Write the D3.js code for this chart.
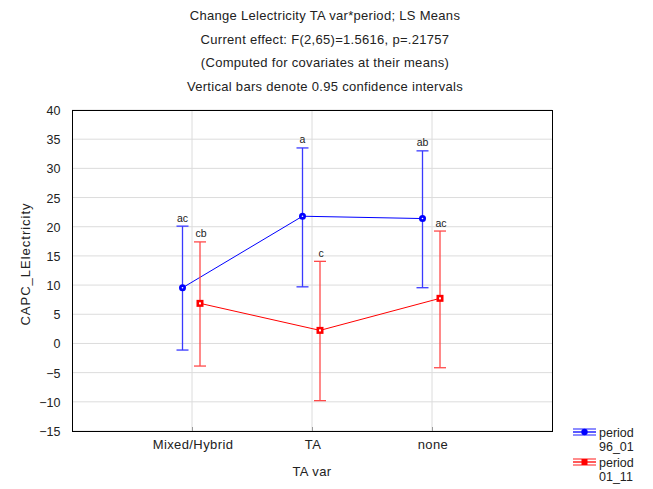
<!DOCTYPE html>
<html><head><meta charset="utf-8">
<script src="https://cdn.jsdelivr.net/npm/d3@7"></script>
<style>body{margin:0;background:#fff}svg text{font-family:"Liberation Sans",Arial,sans-serif;fill:#222}</style>
</head><body><svg id="c" width="653" height="489"></svg>
<script>
const categories = ["Mixed/Hybrid","TA","none"];
const seriesNames = ["period\n96_01","period\n01_11"];
const meansP1 = [9.54, 21.8, 21.4];
const lowerP1 = [-1.13, 9.7, 9.55];
const upperP1 = [20.1, 33.5, 33.0];
const labelsP1 = ["ac","a","ab"];
const meansP2 = [6.87, 2.24, 7.73];
const lowerP2 = [-3.87, -9.8, -4.16];
const upperP2 = [17.4, 14.07, 19.26];
const labelsP2 = ["cb","c","ac"];
const yTicks = [-15,-10,-5,0,5,10,15,20,25,30,35,40];
const titleLines = ["Change Lelectricity TA var*period; LS Means","Current effect: F(2,65)=1.5616, p=.21757","(Computed for covariates at their means)","Vertical bars denote 0.95 confidence intervals"];

const svg = d3.select("#c");
const L=72,R=552,T=110,B=431;
const x = d3.scalePoint().domain(["",...categories,"_"]).range([L,R]);
const y = d3.scaleLinear().domain([-15,40]).range([B,T]);

// grid
svg.append("g").selectAll("line").data(yTicks).join("line")
 .attr("x1",L).attr("x2",R).attr("y1",d=>y(d)).attr("y2",d=>y(d))
 .attr("stroke","#dcdcdc").attr("stroke-width",1);
svg.append("g").selectAll("line").data(categories).join("line")
 .attr("x1",d=>x(d)).attr("x2",d=>x(d)).attr("y1",T).attr("y2",B)
 .attr("stroke","#dcdcdc").attr("stroke-width",1);
svg.append("rect").attr("x",L+0.5).attr("y",T+0.5).attr("width",R-L).attr("height",B-T)
 .attr("fill","none").attr("stroke","#000");

// y axis
const ya = svg.append("g").attr("transform",`translate(${L+0.5},0.5)`)
 .call(d3.axisLeft(y).tickValues(yTicks).tickSize(0).tickPadding(12));
ya.select(".domain").remove();
ya.selectAll("text").attr("font-size",12.5).attr("font-family","Liberation Sans, Arial").attr("fill","#222");
// x axis
const xa = svg.append("g").attr("transform",`translate(0.5,${B+0.5})`)
 .call(d3.axisBottom(x).tickValues(categories).tickSize(0).tickPadding(8));
xa.select(".domain").remove();
xa.selectAll("text").attr("font-size",13).attr("letter-spacing","0.4").attr("font-family","Liberation Sans, Arial").attr("fill","#222");
svg.append("g").selectAll("line").data(categories).join("line")
 .attr("x1",d=>x(d)+0.5).attr("x2",d=>x(d)+0.5).attr("y1",B-4).attr("y2",B).attr("stroke","#999");

// titles
svg.append("g").selectAll("text").data(titleLines).join("text")
 .attr("x",325).attr("y",(d,i)=>20+i*23.7).attr("text-anchor","middle")
 .attr("font-size",13).attr("letter-spacing","0.3").text(d=>d);
svg.append("text").attr("x",312).attr("y",476).attr("text-anchor","middle").attr("font-size",13).attr("letter-spacing","0.4").text("TA var");
svg.append("text").attr("transform","translate(30,264) rotate(-90)").attr("text-anchor","middle").attr("font-size",13).attr("letter-spacing","1").text("CAPC_LElectricity");

const series = [
 {means:meansP1,lo:lowerP1,hi:upperP1,labels:labelsP1,color:"#0000ff",bar:"#3a3aff",off:-9.5,shape:"circle"},
 {means:meansP2,lo:lowerP2,hi:upperP2,labels:labelsP2,color:"#ff0000",bar:"#ff4a4a",off:8,shape:"square"}
];
series.forEach(s=>{
 const g = svg.append("g");
 const px = i=>x(categories[i])+s.off;
 categories.forEach((c,i)=>{
  const cx=px(i);
  g.append("line").attr("x1",cx).attr("x2",cx).attr("y1",y(s.hi[i])).attr("y2",y(s.lo[i])).attr("stroke",s.bar).attr("stroke-width",1.3);
  [s.hi[i],s.lo[i]].forEach(v=>g.append("line").attr("x1",cx-6).attr("x2",cx+6).attr("y1",y(v)).attr("y2",y(v)).attr("stroke",s.bar).attr("stroke-width",1.3));
  g.append("text").attr("x",cx+(s.shape==="square"?1:0)).attr("y",y(s.hi[i])-4.5).attr("text-anchor","middle").attr("font-size",10.5).text(s.labels[i]);
 });
 g.append("path").datum(s.means).attr("fill","none").attr("stroke",s.color).attr("stroke-width",1)
  .attr("d",d3.line().x((d,i)=>px(i)).y(d=>y(d)));
 s.means.forEach((m,i)=>{
  if(s.shape==="circle"){
   g.append("circle").attr("cx",px(i)).attr("cy",y(m)).attr("r",3.5).attr("fill",s.color);
   g.append("circle").attr("cx",px(i)).attr("cy",y(m)).attr("r",0.8).attr("fill","#fff");
  } else {
   g.append("rect").attr("x",px(i)-3.5).attr("y",y(m)-3.5).attr("width",7).attr("height",7).attr("fill",s.color);
   g.append("rect").attr("x",px(i)-1).attr("y",y(m)-1).attr("width",2).attr("height",2).attr("fill","#fff");
  }
 });
});

// legend
const leg = svg.append("g");
series.forEach((s,i)=>{
 const ly = 432+i*30;
 const g = leg.append("g");
 [-3,0,3].forEach(d=>g.append("line").attr("x1",573).attr("x2",596).attr("y1",ly+d).attr("y2",ly+d).attr("stroke",s.color).attr("stroke-width",d===0?1.3:0.9));
 if(s.shape==="circle") g.append("circle").attr("cx",584.5).attr("cy",ly).attr("r",3.2).attr("fill",s.color);
 else g.append("rect").attr("x",581.5).attr("y",ly-3).attr("width",6).attr("height",6).attr("fill",s.color);
 const parts = seriesNames[i].split("\n");
 g.append("text").attr("x",599).attr("y",ly+5).attr("font-size",12.5).text(parts[0]);
 g.append("text").attr("x",599).attr("y",ly+19).attr("font-size",12.5).text(parts[1]);
});
</script></body></html>
